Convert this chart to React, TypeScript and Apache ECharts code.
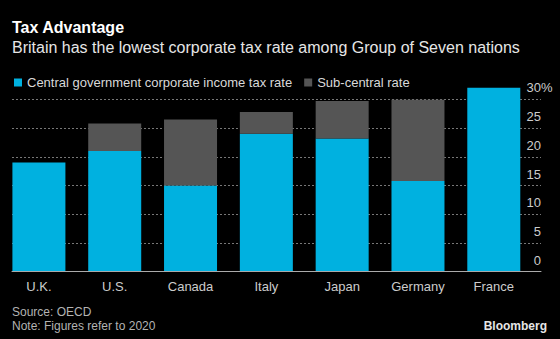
import React, { useEffect, useRef } from "react";
import * as echarts from "echarts";

const categories = ["U.K.", "U.S.", "Canada", "Italy", "Japan", "Germany", "France"];
const centralRate = [19, 21, 15, 24, 23.2, 15.8, 32];
const subCentralRate = [0, 4.8, 11.5, 3.8, 6.5, 14.1, 0];
const seriesNames = ["Central government corporate income tax rate", "Sub-central rate"];
const yTicks = { min: 0, max: 30, interval: 5 };
const titleText = "Tax Advantage";
const subtitleText = "Britain has the lowest corporate tax rate among Group of Seven nations";
const sourceText = "Source: OECD";
const noteText = "Note: Figures refer to 2020";

const FONT = "'Liberation Sans', Arial, sans-serif";
const BLUE = "#00b1e0";
const GRAY = "#555555";

export default function App() {
  const ref = useRef<HTMLDivElement>(null);
  useEffect(() => {
    document.body.style.margin = "0";
    document.body.style.background = "#000";
    const chart = echarts.init(ref.current!, null, { renderer: "svg" });
    const gridTop = 99.3;
    const gridBottom = 67.3;
    chart.setOption({
      animation: false,
      backgroundColor: "#000",
      textStyle: { fontFamily: FONT },
      legend: {
        left: 9,
        top: 71,
        icon: "rect",
        itemWidth: 8,
        itemHeight: 8,
        itemGap: 12,
        textStyle: { color: "#d9d9d9", fontSize: 13, fontFamily: FONT },
        data: seriesNames,
      },
      grid: [
        { left: 1, right: 28.3, top: gridTop, bottom: gridBottom },
        { left: 12, right: 19, top: gridTop, bottom: gridBottom },
      ],
      xAxis: [
        {
          type: "category",
          gridIndex: 0,
          data: categories,
          axisLine: { show: false },
          axisTick: { show: false },
          axisLabel: { color: "#cccccc", fontSize: 13, margin: 8, fontFamily: FONT },
        },
        {
          type: "value",
          gridIndex: 1,
          min: 0,
          max: 1,
          z: 5,
          axisLine: { show: true, onZero: false, lineStyle: { color: "#aaaaaa", width: 1 } },
          axisTick: { show: false },
          axisLabel: { show: false },
          splitLine: { show: false },
        },
      ],
      yAxis: [
        {
          type: "value",
          gridIndex: 0,
          min: yTicks.min,
          max: yTicks.max,
          interval: yTicks.interval,
          show: false,
          splitLine: { show: false },
        },
        {
          type: "value",
          gridIndex: 1,
          position: "right",
          min: yTicks.min,
          max: yTicks.max,
          interval: yTicks.interval,
          axisLine: { show: false },
          axisTick: { show: false },
          splitLine: { show: true, lineStyle: { color: "#777777", type: [2, 2], width: 1 } },
          axisLabel: {
            inside: true,
            margin: -11.6,
            align: "right",
            verticalAlign: "bottom",
            padding: [0, 0, 5, 0],
            color: "#cccccc",
            fontSize: 13,
            fontFamily: FONT,
            formatter: (v: number) => (v === yTicks.max ? `${v}%` : `${v}{h|%}`),
            rich: { h: { color: "rgba(0,0,0,0)", fontSize: 13, fontFamily: FONT } },
          },
        },
      ],
      series: [
        {
          name: seriesNames[0],
          type: "bar",
          stack: "total",
          xAxisIndex: 0,
          yAxisIndex: 0,
          barWidth: 53,
          clip: false,
          itemStyle: { color: BLUE },
          data: centralRate,
        },
        {
          name: seriesNames[1],
          type: "bar",
          stack: "total",
          xAxisIndex: 0,
          yAxisIndex: 0,
          barWidth: 53,
          clip: false,
          itemStyle: { color: GRAY },
          data: subCentralRate,
        },
      ],
      graphic: [
        {
          type: "text",
          left: 12,
          top: 19,
          style: { text: titleText, fill: "#ffffff", font: `bold 16px ${FONT}` },
        },
        {
          type: "text",
          left: 12,
          top: 39,
          style: { text: subtitleText, fill: "#e6e6e6", font: `16px ${FONT}` },
        },
        {
          type: "text",
          left: 12,
          top: 306,
          style: { text: sourceText, fill: "#b3b3b3", font: `12px ${FONT}` },
        },
        {
          type: "text",
          left: 12,
          top: 320,
          style: { text: noteText, fill: "#b3b3b3", font: `12px ${FONT}` },
        },
        {
          type: "text",
          right: 13,
          top: 320,
          style: { text: "Bloomberg", fill: "#e6e6e6", font: `bold 12px ${FONT}` },
        },
      ],
    });
    return () => chart.dispose();
  }, []);
  return (
    <div
      ref={ref}
      style={{ position: "absolute", left: 0, top: 0, width: 560, height: 339, background: "#000" }}
    />
  );
}
